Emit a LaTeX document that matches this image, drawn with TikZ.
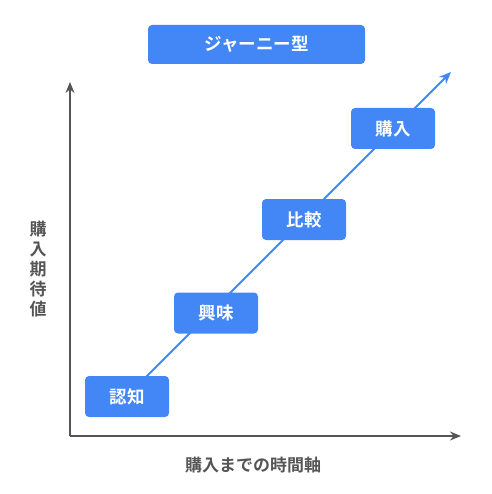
\documentclass[tikz,border=0pt]{standalone}
\usepackage{fontspec}
\setmainfont{Noto Sans CJK JP}[BoldFont={Noto Sans CJK JP Bold}]
\usetikzlibrary{arrows.meta}
\definecolor{gblue}{HTML}{4287F5}
\definecolor{axgray}{HTML}{555555}
\tikzset{
  stage/.style={fill=gblue, rounded corners=4pt, minimum width=84pt, minimum height=41pt, text=white, font=\fontsize{17.5}{20}\selectfont\bfseries, inner sep=0pt},
  axis/.style={draw=axgray, line width=2pt, -{Stealth[length=11pt,width=9pt]}},
  glabel/.style={text=axgray, font=\fontsize{17}{20}\selectfont\bfseries},
}
\begin{document}
\begin{tikzpicture}[x=1pt,y=-1pt]
\useasboundingbox (0,0) rectangle (491,494);
\node[stage, minimum width=217pt, minimum height=39pt] (title) at (256.5,44.5) {ジャーニー型};
\coordinate (origin) at (70,436);
\coordinate (ytip) at (70,82);
\coordinate (xtip) at (461,436);
\draw[axis] (origin) -- (ytip);
\draw[axis] (origin) -- (xtip);
\coordinate (start) at (127,396);
\coordinate (tip) at (451,72);
\draw[draw=gblue, line width=1.8pt, -{Stealth[length=12pt,width=10pt]}] (start) -- (tip);
\node[stage] (s1) at (127,396.5) {認知};
\node[stage] (s2) at (216,313) {興味};
\node[stage] (s3) at (304,219.5) {比較};
\node[stage] (s4) at (393,128.5) {購入};
\node[glabel, align=center, text width=18pt] (ylab) at (38,269) {\baselineskip=20pt 購\\入\\期\\待\\値};
\node[glabel] (xlab) at (253,465) {購入までの時間軸};
\end{tikzpicture}
\end{document}
